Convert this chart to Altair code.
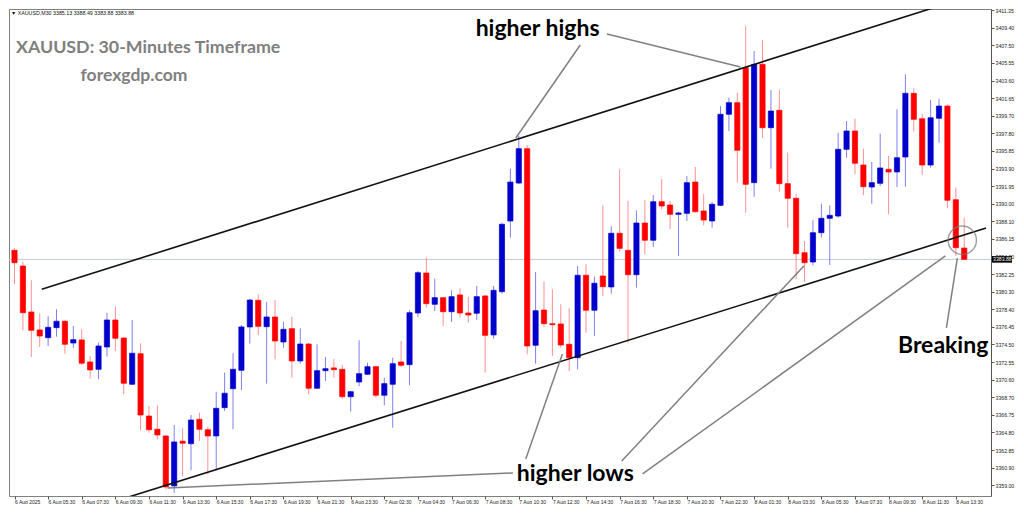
import json
import altair as alt
import pandas as pd

# ---- candle data (XAUUSD M30) ----
opens = [3384.88, 3383.15, 3378.08, 3376.10, 3375.25, 3376.35, 3377.06, 3374.66, 3375.00, 3372.57,
         3371.76, 3374.22, 3377.20, 3375.21, 3370.11, 3373.48, 3366.61, 3365.15, 3364.41, 3358.90,
         3363.83, 3363.56, 3366.25, 3365.10, 3364.41, 3367.53, 3369.62, 3371.65, 3376.43, 3379.37,
         3376.46, 3377.53, 3374.77, 3376.24, 3372.68, 3374.55, 3369.67, 3371.61, 3371.91, 3371.76,
         3368.74, 3370.36, 3371.21, 3372.05, 3368.90, 3370.11, 3372.57, 3372.27, 3377.97, 3382.38,
         3378.93, 3379.66, 3378.11, 3379.96, 3377.97, 3377.94, 3379.85, 3375.55, 3380.32, 3388.11,
         3392.30, 3396.09, 3374.41, 3378.30, 3376.79, 3376.76, 3374.52, 3373.04, 3382.13, 3378.27,
         3382.05, 3380.84, 3386.76, 3384.88, 3382.19, 3387.89, 3385.99, 3390.24, 3389.88, 3388.85,
         3388.96, 3392.41, 3389.22, 3388.11, 3389.84, 3399.88, 3401.16, 3405.02, 3392.34, 3405.39,
         3398.40, 3400.32, 3392.23, 3390.62, 3384.62, 3383.59, 3386.82, 3388.41, 3388.66, 3396.02,
         3398.04, 3394.29, 3391.86, 3392.27, 3393.81, 3393.52, 3395.17, 3402.19, 3399.39, 3394.29,
         3399.44, 3400.79, 3390.46, 3385.13]
highs = [3385.13, 3383.63, 3381.58, 3377.89, 3377.61, 3378.38, 3377.17, 3376.54, 3376.17, 3373.23,
         3374.70, 3378.00, 3378.66, 3375.32, 3377.20, 3374.63, 3367.72, 3367.80, 3364.52, 3365.62,
         3365.26, 3366.72, 3366.98, 3365.40, 3369.29, 3371.39, 3373.53, 3376.65, 3379.51, 3380.03,
         3379.18, 3379.40, 3377.01, 3377.56, 3376.28, 3374.66, 3374.52, 3373.12, 3372.87, 3372.24,
         3369.37, 3374.96, 3372.49, 3372.13, 3370.84, 3373.04, 3374.88, 3378.27, 3382.60, 3384.07,
         3381.75, 3379.74, 3380.47, 3380.69, 3379.74, 3380.95, 3379.96, 3380.95, 3387.93, 3393.88,
         3397.49, 3396.49, 3382.49, 3381.42, 3380.58, 3378.93, 3378.49, 3383.15, 3383.34, 3381.98,
         3389.84, 3387.53, 3393.81, 3390.32, 3389.29, 3390.40, 3390.98, 3392.71, 3390.32, 3389.14,
         3393.08, 3394.07, 3391.06, 3390.21, 3400.79, 3401.71, 3402.26, 3409.61, 3406.86, 3408.07,
         3402.56, 3402.56, 3395.65, 3391.06, 3385.91, 3388.19, 3390.02, 3389.84, 3397.85, 3399.14,
         3399.39, 3396.09, 3394.62, 3397.74, 3395.28, 3400.43, 3404.29, 3402.74, 3399.94, 3401.46,
         3401.60, 3400.98, 3391.79, 3388.49]
lows = [3381.17, 3376.06, 3373.12, 3374.22, 3374.33, 3375.36, 3373.48, 3374.14, 3372.24, 3370.73,
        3370.66, 3373.15, 3373.78, 3369.00, 3370.03, 3365.04, 3364.77, 3364.05, 3358.53, 3358.16,
        3360.00, 3360.63, 3363.86, 3360.19, 3360.63, 3367.17, 3365.15, 3369.48, 3374.59, 3375.55,
        3370.18, 3372.87, 3374.14, 3370.84, 3372.38, 3369.00, 3369.59, 3370.47, 3370.84, 3368.52,
        3367.09, 3369.89, 3371.13, 3368.63, 3367.80, 3365.32, 3372.02, 3370.00, 3377.53, 3378.56,
        3378.19, 3376.54, 3376.98, 3377.45, 3376.90, 3377.20, 3371.39, 3375.14, 3380.10, 3386.27,
        3392.19, 3373.41, 3372.38, 3376.43, 3373.23, 3374.14, 3371.58, 3371.76, 3375.80, 3375.43,
        3379.85, 3380.10, 3384.73, 3374.70, 3380.76, 3384.44, 3385.25, 3389.40, 3387.20, 3384.26,
        3388.11, 3389.03, 3387.64, 3387.38, 3389.77, 3398.04, 3392.34, 3389.03, 3390.79, 3397.30,
        3393.88, 3391.35, 3387.38, 3381.69, 3381.39, 3383.23, 3386.27, 3383.26, 3388.48, 3395.09,
        3393.26, 3390.95, 3390.02, 3391.97, 3388.85, 3391.86, 3391.90, 3397.96, 3393.19, 3393.99,
        3396.75, 3389.51, 3384.26, 3383.88]
closes = [3383.52, 3378.00, 3376.06, 3375.43, 3376.39, 3377.06, 3374.52, 3375.03, 3372.43, 3371.69,
          3374.33, 3377.20, 3375.18, 3370.22, 3373.53, 3366.72, 3365.10, 3364.52, 3358.79, 3363.75,
          3363.61, 3366.17, 3365.15, 3364.41, 3367.46, 3369.12, 3371.76, 3376.43, 3379.40, 3376.50,
          3377.53, 3374.88, 3376.17, 3372.68, 3374.55, 3369.67, 3371.61, 3371.83, 3371.72, 3368.74,
          3369.29, 3371.28, 3372.05, 3368.90, 3370.18, 3372.38, 3372.20, 3378.00, 3382.41, 3379.00,
          3379.66, 3378.11, 3379.77, 3377.97, 3377.75, 3379.77, 3375.51, 3380.47, 3387.75, 3392.41,
          3396.09, 3374.33, 3378.22, 3376.79, 3376.68, 3374.44, 3373.04, 3382.13, 3378.27, 3381.25,
          3380.87, 3386.76, 3385.10, 3382.19, 3387.89, 3385.99, 3390.24, 3389.77, 3388.85, 3389.00,
          3392.34, 3389.14, 3388.22, 3389.96, 3399.88, 3401.16, 3395.91, 3392.16, 3405.39, 3398.40,
          3400.24, 3392.23, 3390.62, 3384.51, 3383.52, 3386.82, 3388.41, 3388.74, 3396.02, 3398.04,
          3394.48, 3391.90, 3392.34, 3393.96, 3393.52, 3395.09, 3402.19, 3399.33, 3394.29, 3399.50,
          3400.79, 3390.40, 3385.17, 3383.88]

time_labels = ["6 Aug 2025", "6 Aug 05:30", "6 Aug 07:30", "6 Aug 09:30", "6 Aug 11:30",
               "6 Aug 13:30", "6 Aug 15:30", "6 Aug 17:30", "6 Aug 19:30", "6 Aug 21:30",
               "6 Aug 23:30", "7 Aug 02:30", "7 Aug 04:30", "7 Aug 06:30", "7 Aug 08:30",
               "7 Aug 10:30", "7 Aug 12:30", "7 Aug 14:30", "7 Aug 16:30", "7 Aug 18:30",
               "7 Aug 20:30", "7 Aug 22:30", "8 Aug 01:30", "8 Aug 03:30", "8 Aug 05:30",
               "8 Aug 07:30", "8 Aug 09:30", "8 Aug 11:30", "8 Aug 13:30"]
label_bars = list(range(0, 4 * len(time_labels), 4))

price_ticks = [3357.05, 3359.00, 3360.90, 3362.85, 3364.80, 3366.75, 3368.70, 3370.60,
               3372.55, 3374.50, 3376.45, 3378.40, 3380.30, 3382.25, 3384.20, 3386.15,
               3388.10, 3390.00, 3391.95, 3393.90, 3395.85, 3397.80, 3399.70, 3401.65,
               3403.60, 3405.55, 3407.50, 3409.40, 3411.35]

# channel lines (bar index, price)
channel_seg = ["upper", "upper", "lower", "lower"]
channel_i = [3.24, 112.06, 12.34, 115.6]
channel_p = [3380.58, 3412.42, 3357.32, 3387.33]

# pointer lines from the labels (bar index, price)
pointer_seg = [1, 1, 2, 2, 3, 3, 4, 4, 5, 5, 6, 6, 7, 7]
pointer_i = [67.31, 59.65, 70.49, 86.38, 18.20, 59.30, 60.83, 65.19, 72.25, 93.92, 74.73, 110.76, 110.88, 112.18]
pointer_p = [3407.52, 3397.27, 3408.73, 3405.09, 3358.68, 3360.33, 3361.87, 3373.45, 3361.65, 3383.15,
             3360.22, 3384.26, 3376.32, 3384.03]

note_text = ["higher highs", "higher lows", "Breaking"]
note_i = [62.24, 66.72, 110.49]
note_p = [3408.51, 3359.45, 3373.59]

circle_i = [112.77]
circle_p = [3385.99]

W, H = 982, 487
X_DOMAIN = [-0.06, 115.59]
Y_DOMAIN = [3357.79, 3411.49]

df = pd.DataFrame({"i": list(range(len(opens))), "o": opens, "h": highs, "l": lows, "c": closes})
last = pd.DataFrame({"p": [closes[-1]], "t": [f"{closes[-1]:.2f}"]})
chan = pd.DataFrame({"seg": channel_seg, "i": channel_i, "p": channel_p})
ptr = pd.DataFrame({"seg": pointer_seg, "i": pointer_i, "p": pointer_p})
notes = pd.DataFrame({"t": note_text, "i": note_i, "p": note_p})
circ = pd.DataFrame({"i": circle_i, "p": circle_p})

visible_ticks = [t for t in price_ticks if Y_DOMAIN[0] <= t <= Y_DOMAIN[1]]

xscale = alt.Scale(domain=X_DOMAIN, nice=False, zero=False)
yscale = alt.Scale(domain=Y_DOMAIN, nice=False, zero=False)

xaxis = alt.Axis(values=label_bars, labelExpr=f"{json.dumps(time_labels)}[round(datum.value/4)]",
                 labelAlign="left", labelBaseline="top", labelFontSize=5, labelFont="Liberation Sans",
                 labelColor="#222222", labelPadding=0, labelOverlap=False, labelFlush=False,
                 tickSize=3, tickColor="#555555", domain=False, grid=False, title=None)
yaxis = alt.Axis(orient="right", values=visible_ticks, format=".2f", labelFontSize=5.2,
                 labelFont="Liberation Sans", labelColor="#222222", labelPadding=1,
                 labelOverlap=False, labelFlush=False, tickSize=3, tickColor="#555555",
                 domainColor="#555555", grid=False, title=None)


def X(field="i"):
    return alt.X(f"{field}:Q", scale=xscale, axis=xaxis)


def Y(field):
    return alt.Y(f"{field}:Q", scale=yscale, axis=yaxis)


up = "datum.c >= datum.o"

price_line = alt.Chart(last).mark_rule(color="#c3cad3", strokeWidth=1).encode(y=Y("p"))

wicks = alt.Chart(df).mark_rule(strokeWidth=1, clip=True).encode(
    x=X(), y=Y("l"), y2="h:Q",
    color=alt.condition(up, alt.value("#8080ee"), alt.value("#ff9090")))

bodies = alt.Chart(df).mark_bar(size=5.2, strokeWidth=0.7, clip=True).encode(
    x=X(), y=Y("o"), y2="c:Q",
    color=alt.condition(up, alt.value("#0000cc"), alt.value("#ff0000")),
    stroke=alt.condition(up, alt.value("#0000cc"), alt.value("#ff0000")))

channels = alt.Chart(chan).mark_line(color="#111111", strokeWidth=1.6, clip=True).encode(
    x=X(), y=Y("p"), detail="seg:N")

pointers = alt.Chart(ptr).mark_line(color="#808080", strokeWidth=1.5, clip=True).encode(
    x=X(), y=Y("p"), detail="seg:N")

circle = alt.Chart(circ).mark_point(shape="circle", size=800, filled=False, color="#7a7a7a",
                                    strokeWidth=1.5).encode(x=X(), y=Y("p"))

note_marks = alt.Chart(notes).mark_text(font="Lato", fontSize=23, fontWeight="bold", color="#000000",
                                        align="center", baseline="alphabetic").encode(
    x=X(), y=Y("p"), text="t:N")

title1 = alt.Chart(last).mark_text(font="Lato", fontSize=17.8, fontWeight="bold", color="#7f7f7f",
                                   align="left", baseline="alphabetic",
                                   text="XAUUSD: 30-Minutes Timeframe").encode(
    x=alt.value(7), y=alt.value(43.7))
title2 = alt.Chart(last).mark_text(font="Lato", fontSize=17.5, fontWeight="bold", color="#7f7f7f",
                                   align="center", baseline="alphabetic", text="forexgdp.com").encode(
    x=alt.value(125), y=alt.value(72))
header = alt.Chart(last).mark_text(font="Liberation Sans", fontSize=5.3, color="#111111", align="left",
                                   baseline="alphabetic",
                                   text="\u25bc XAUUSD,M30  3385.13 3388.49 3383.88 3383.88").encode(
    x=alt.value(2), y=alt.value(6))

price_box = alt.Chart(last).mark_rule(color="#000000", strokeWidth=6.5).encode(
    x=alt.value(W + 1), x2=alt.value(W + 21), y=Y("p"))
price_txt = alt.Chart(last).mark_text(font="Liberation Sans", fontSize=5.2, color="#ffffff",
                                      align="left", baseline="middle").encode(
    x=alt.value(W + 2), y=Y("p"), text="t:N")

chart = alt.layer(price_line, wicks, bodies, channels, pointers, circle, note_marks,
                  title1, title2, header, price_box, price_txt).properties(
    width=W, height=H, background="#ffffff", padding=0
).configure_view(stroke="#808080", strokeWidth=1)

chart.save("out.html", embed_options={"renderer": "svg", "actions": False})
